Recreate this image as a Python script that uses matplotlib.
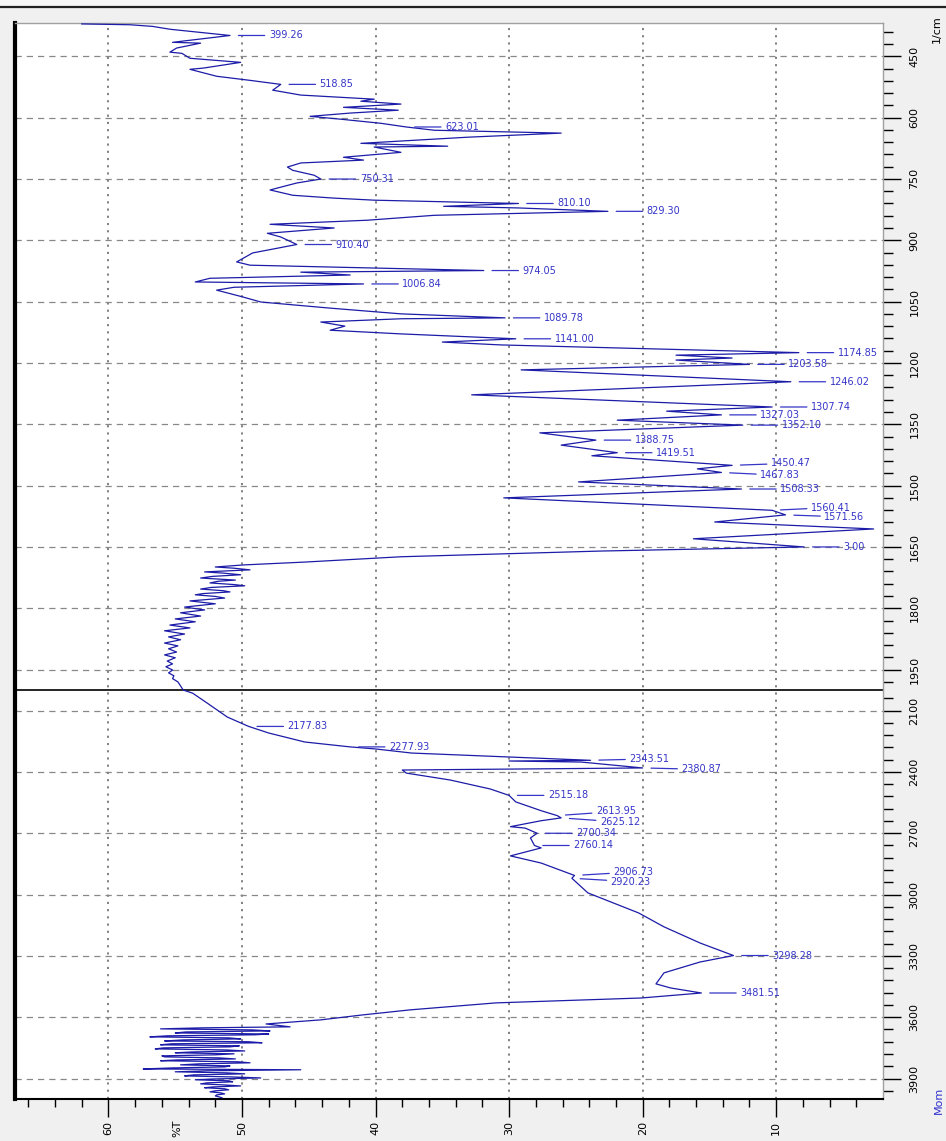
import numpy as np
import matplotlib
matplotlib.use("Agg")
import matplotlib.pyplot as plt
from matplotlib.patches import Rectangle
from matplotlib.lines import Line2D

# spectrum, wavenumber (1/cm) and %T
wn_low = [371, 373, 377, 384, 399.26, 411, 416, 418, 430, 440, 443, 455, 465, 479, 482, 499, 509,
          518.85, 533, 545, 550, 555, 560, 567, 575, 582, 589, 597, 604, 614, 623.01, 631, 638, 648,
          663, 670, 672, 685, 697, 704, 711, 721, 729, 741, 750.31, 760, 777, 790, 797, 802, 810.10,
          817, 821, 829.30, 839, 851, 861, 870, 883, 892, 910.40, 931, 953, 961, 974.05, 978, 985,
          993, 1002, 1006.84, 1015, 1022, 1039, 1051, 1066, 1080, 1089.78, 1092, 1100, 1110, 1120,
          1129, 1141.00, 1149, 1156, 1174.85, 1181, 1188, 1193, 1203.58, 1217, 1246.02, 1278,
          1307.74, 1318, 1327.03, 1340, 1352.10, 1371, 1388.75, 1401, 1419.51, 1427, 1450.47, 1459,
          1467.83, 1491, 1508.33, 1530, 1560.41, 1571.56, 1589, 1606, 1630, 1650, 1660, 1674, 1687,
          1694]
t_low = [62.0, 58.4, 56.7, 55.4, 50.9, 53.9, 55.2, 53.1, 54.9, 55.4, 54.5, 53.9, 50.1, 52.9, 53.9,
         51.9, 49.4, 47.1, 47.7, 45.6, 42.9, 40.1, 41.1, 38.1, 42.4, 38.3, 41.9, 44.9, 42.6, 39.6,
         37.7, 35.6, 26.1, 33.1, 41.1, 34.6, 40.1, 38.1, 42.4, 40.9, 45.6, 46.6, 46.2, 44.6, 44.1,
         45.9, 47.9, 46.2, 43.1, 40.1, 29.3, 34.9, 29.3, 22.6, 35.6, 40.6, 47.9, 43.1, 48.1, 47.1,
         45.9, 49.2, 50.4, 49.4, 31.9, 45.6, 41.9, 52.4, 53.5, 40.9, 50.6, 51.9, 49.9, 48.6, 43.4,
         38.1, 30.3, 38.1, 44.1, 42.3, 43.4, 38.1, 29.5, 35.0, 30.6, 8.3, 17.5, 13.3, 17.5, 12.0,
         29.1, 8.9, 32.8, 10.3, 18.2, 14.1, 21.9, 12.5, 27.7, 23.5, 26.1, 21.9, 23.8, 13.3, 15.9,
         14.1, 24.8, 12.6, 30.4, 10.3, 9.3, 14.6, 2.7, 16.2, 7.9, 23.1, 38.1, 45.3, 49.9]

wn_plateau = [1699, 1702, 1706, 1711, 1714, 1718, 1722, 1726, 1731, 1734, 1738, 1742, 1745, 1749,
              1753, 1757, 1760, 1764, 1767, 1771, 1775, 1782, 1789, 1797, 1804, 1811, 1819, 1826,
              1833, 1841, 1848, 1855, 1863, 1870, 1877, 1885, 1892, 1899, 1907, 1914, 1921, 1929,
              1936, 1943, 1951, 1958, 1965, 1972, 1980, 1990, 2000]
t_plateau = [52.0, 50.6, 49.4, 52.8, 51.4, 50.1, 52.2, 53.1, 50.5, 51.8, 52.4, 50.6, 49.8, 52.3,
             53.1, 51.4, 50.9, 52.9, 53.5, 52.0, 51.3, 53.9, 52.0, 54.3, 52.8, 54.6, 53.1, 55.0,
             53.5, 55.4, 53.9, 55.8, 54.3, 55.5, 54.6, 55.8, 54.8, 55.5, 54.9, 55.8, 55.0, 55.6,
             55.2, 55.7, 55.2, 55.5, 55.1, 55.2, 54.8, 54.6, 54.4]

wn_high = [2015, 2064, 2132, 2177.83, 2210, 2254, 2277.93, 2288, 2308, 2343.51, 2347, 2352, 2380.87,
           2391, 2406, 2440, 2484, 2515.18, 2547, 2590, 2613.95, 2625.12, 2639, 2668, 2675, 2700.34,
           2723, 2760.14, 2772, 2811, 2846, 2906.73, 2920.23, 2992, 3090, 3158, 3237, 3298.28, 3330,
           3383, 3437, 3457, 3481.51, 3506, 3530, 3564, 3589, 3613, 3633]
t_high = [53.7, 52.6, 51.1, 49.5, 48.0, 45.3, 41.9, 40.0, 37.3, 23.9, 30.0, 24.6, 20.0, 38.0, 37.7,
          34.4, 31.4, 30.0, 29.5, 27.6, 26.4, 26.1, 27.6, 29.9, 28.8, 27.9, 28.4, 28.1, 27.6, 29.9,
          27.6, 25.1, 25.3, 24.1, 20.3, 18.4, 15.7, 13.2, 15.7, 18.4, 19.0, 17.9, 15.6, 20.1, 31.0,
          37.4, 41.0, 44.1, 48.2]

wn_tail = [3647, 3652, 3657, 3662, 3667, 3672, 3677, 3682, 3686, 3691, 3696, 3701, 3706, 3711, 3716,
           3720, 3725, 3730, 3735, 3740, 3745, 3750, 3755, 3760, 3765, 3770, 3774, 3779, 3784, 3789,
           3794, 3799, 3804, 3809, 3813, 3818, 3823, 3828, 3833, 3838, 3843, 3848, 3853, 3857, 3862,
           3867, 3872, 3877, 3882, 3887, 3892, 3897, 3902, 3906, 3911, 3916, 3921, 3926, 3931, 3936,
           3941, 3945, 3950, 3955, 3960, 3965, 3970, 3975, 3980, 3985, 3990, 3994]
t_tail = [46.4, 53.0, 56.1, 49.2, 47.9, 54.2, 55.0, 48.0, 49.0, 55.6, 56.9, 51.0, 50.1, 54.4, 55.8,
          49.5, 48.5, 55.3, 56.1, 50.2, 50.9, 55.9, 56.5, 51.2, 49.8, 53.8, 55.0, 50.6, 52.0, 56.0,
          55.8, 51.7, 50.5, 54.9, 56.1, 50.3, 49.4, 53.2, 54.6, 50.9, 51.3, 55.2, 57.4, 45.6, 52.6,
          55.0, 51.2, 49.8, 53.6, 54.3, 50.8, 48.6, 52.1, 53.5, 51.0, 50.7, 52.6, 53.1, 51.4, 50.1,
          52.2, 52.8, 51.3, 51.0, 52.0, 52.4, 51.6, 51.3, 51.9, 52.0, 51.7, 51.5]

peak_wn = [399.26, 518.85, 623.01, 750.31, 810.10, 829.30, 910.40, 974.05, 1006.84, 1089.78,
           1141.00, 1174.85, 1203.58, 1246.02, 1307.74, 1327.03, 1352.10, 1388.75, 1419.51, 1450.47,
           1467.83, 1508.33, 1560.41, 1571.56, 1650, 2177.83, 2277.93, 2343.51, 2380.87, 2515.18,
           2613.95, 2625.12, 2700.34, 2760.14, 2906.73, 2920.23, 3298.28, 3481.51]
peak_text = ["399.26", "518.85", "623.01", "750.31", "810.10", "829.30", "910.40", "974.05",
             "1006.84", "1089.78", "1141.00", "1174.85", "1203.58", "1246.02", "1307.74", "1327.03",
             "1352.10", "1388.75", "1419.51", "1450.47", "1467.83", "1508.33", "1560.41", "1571.56",
             "3.00", "2177.83", "2277.93", "2343.51", "2380.87", "2515.18", "2613.95", "2625.12",
             "2700.34", "2760.14", "2906.73", "2920.23", "3298.28", "3481.51"]

wn_major = [450, 600, 750, 900, 1050, 1200, 1350, 1500, 1650, 1800, 1950,
            2100, 2400, 2700, 3000, 3300, 3600, 3900]
t_major = [60, 50, 40, 30, 20, 10]

wn = np.array(wn_low + wn_plateau + wn_high + wn_tail, dtype=float)
tr = np.array(t_low + t_plateau + t_high + t_tail, dtype=float)


# the 2000-4000 part is drawn at half scale
def fwd(w):
    w = np.asarray(w, dtype=float)
    return np.where(w <= 2000, w, 2000 + (w - 2000) / 2)


def inv(v):
    v = np.asarray(v, dtype=float)
    return np.where(v <= 2000, v, 2000 + (v - 2000) * 2)


W, H = 946, 1141
fig = plt.figure(figsize=(W / 100, H / 100), dpi=100, facecolor='#f0f0f0')
fig.add_artist(Rectangle((0, 1 - 7 / H), 1, 7 / H, transform=fig.transFigure,
                         facecolor='#f7f7f7', edgecolor='none'))
fig.add_artist(Line2D([0, 1], [1 - 7 / H] * 2, transform=fig.transFigure, color='#222222', lw=1.6))

ax = fig.add_axes([15 / W, 1 - 1099 / H, 868 / W, (1099 - 22.7) / H])
ax.set_facecolor('white')

blue = '#1c1ca8'
ax.plot(tr, wn, color=blue, lw=0.9, zorder=3)

ax.set_yscale('function', functions=(fwd, inv))
ax.set_ylim(4000, 368)
ax.set_xlim(67, 2)

# right axis: wavenumber
ax.yaxis.tick_right()
ax.set_yticks(wn_major)
ax.set_yticks(list(range(390, 2000, 30)) + list(range(2040, 4000, 60)), minor=True)
ax.set_yticklabels([str(v) for v in wn_major], rotation=90, va='center')
ax.tick_params(axis='y', which='major', length=13, width=1, pad=6, labelsize=8)
ax.tick_params(axis='y', which='minor', length=7, width=1)

# bottom axis: %T
ax.set_xticks(t_major)
ax.set_xticks([v for v in range(66, 2, -2) if v % 10], minor=True)
ax.set_xticklabels([str(v) for v in t_major], rotation=90, ha='center', va='top')
ax.tick_params(axis='x', which='major', length=13, width=1, pad=3, labelsize=8)
ax.tick_params(axis='x', which='minor', length=6, width=1)

ax.xaxis.grid(True, which='major', ls=(0, (1.2, 2.8)), color='#777777', lw=1.3)
ax.yaxis.grid(True, which='major', ls=(0, (5, 4)), color='#888888', lw=0.9)
ax.axhline(2000, color='black', lw=1.2, zorder=2)

ax.spines['left'].set_linewidth(3)
ax.spines['left'].set_color('black')
ax.spines['bottom'].set_linewidth(1.5)
ax.spines['bottom'].set_color('black')
for s in ['top', 'right']:
    ax.spines[s].set_color('#a0a0a0')
    ax.spines[s].set_linewidth(1)

# peak labels
nudge = {"2613.95": 3, "2625.12": -3, "2906.73": 2.5, "2920.23": -2.5, "1560.41": 2,
         "1571.56": -1.5, "1450.47": 1.5, "1467.83": -2, "2343.51": 1, "2380.87": -1}
lab_col = '#3535c8'
for p, s in zip(peak_wn, peak_text):
    i = np.argmin(np.abs(wn - p))
    ax.annotate(s, xy=(tr[i], wn[i]), xytext=(28, nudge.get(s, 0)), textcoords='offset points',
                ha='left', va='center', fontsize=7, color=lab_col,
                arrowprops=dict(arrowstyle='-', color=lab_col, lw=0.9, shrinkA=1, shrinkB=6),
                zorder=4)

fig.text(177 / W, 1 - 1128 / H, '%T', rotation=90, ha='center', va='center', fontsize=8)
fig.text(937 / W, 1 - 29 / H, '1/cm', rotation=90, ha='center', va='center', fontsize=8)
fig.text(939 / W, 1 - 1100 / H, 'Mom', rotation=90, ha='center', va='center', fontsize=8,
         color='#3030d0')

fig.savefig('out.png', dpi=100, facecolor=fig.get_facecolor())
